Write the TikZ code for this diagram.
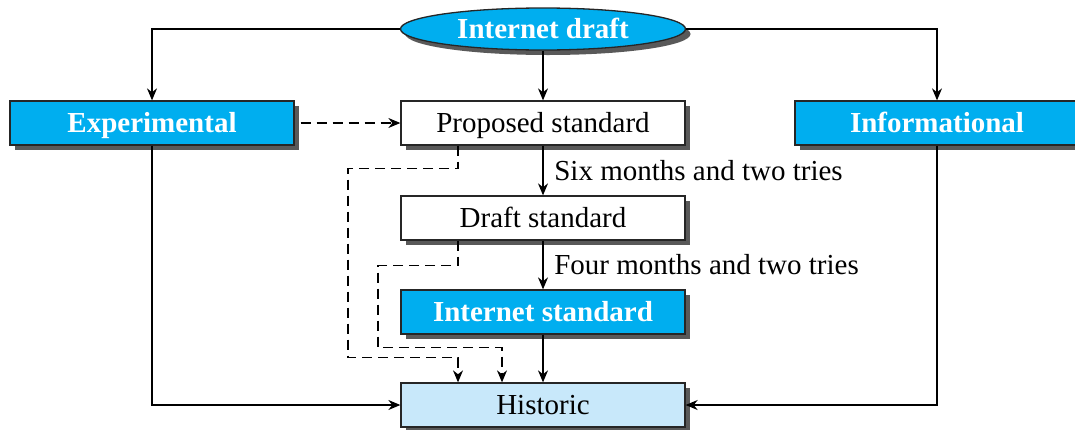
\documentclass[tikz,border=0pt]{standalone}
\usepackage{fontspec}
\setmainfont{Liberation Serif}
\usetikzlibrary{arrows.meta,shapes.geometric,shadows}
\definecolor{stdcyan}{RGB}{0,174,239}
\definecolor{histblue}{RGB}{200,232,250}

\begin{document}
\begin{tikzpicture}[x=.5pt,y=-.5pt,line width=.65pt,
 box/.style={draw=black!85,minimum width=142pt,minimum height=22pt,inner sep=0pt,
  text height=11pt,text depth=2pt,font=\fontsize{14.5}{17}\selectfont,
  drop shadow={shadow xshift=2.5pt,shadow yshift=-2.5pt,fill=black!65,opacity=1}},
 hot/.style={box,fill=stdcyan,text=white,font=\fontsize{14.5}{17}\selectfont\bfseries},
 arr/.style={-{Stealth[length=6pt,width=5pt]}},
 dashline/.style={arr,dash pattern=on 5pt off 3pt},
 lbl/.style={font=\fontsize{14.5}{17}\selectfont,right,xshift=2pt}]
\useasboundingbox (0,0) rectangle (1075,429);
% the boxes
\node[hot,ellipse,minimum width=142.5pt,minimum height=21pt,
 drop shadow={shadow xshift=1.5pt,shadow yshift=-1.5pt,fill=black!65,opacity=1}] (idraft) at (543,29) {Internet draft};
\node[hot] (exper) at (152,123) {Experimental};
\node[box,fill=white] (proposed) at (543,123) {Proposed standard};
\node[hot] (info) at (937,123) {Informational};
\node[box,fill=white] (dstd) at (543,218) {Draft standard};
\node[hot] (istd) at (543,312) {Internet standard};
\node[box,fill=histblue] (hist) at (543,405) {Historic};
% solid arrows
\draw[arr] (idraft.west) -| (exper.north);
\draw[arr] (idraft.east) -| (info.north);
\draw[arr] (idraft.south) -- (proposed.north);
\draw[arr] (proposed.south) -- node[lbl]{Six months and two tries} (dstd.north);
\draw[arr] (dstd.south) -- node[lbl]{Four months and two tries} (istd.north);
\draw[arr] (istd.south) -- (hist.north);
\draw[arr] (exper.south) |- (hist.west);
\draw[arr] (info.south) |- (hist.east);
% dashed arrows
\draw[dashline] ([xshift=3pt]exper.east) -- (proposed.west);
\draw[dashline] ([xshift=-42.5pt]proposed.south) -- ++(0,23) -| ++(-110,189) -| ([xshift=-42.5pt]hist.north);
\draw[dashline] ([xshift=-42.5pt]dstd.south) -- ++(0,25) -| ++(-80,82) -| ([xshift=-20.5pt]hist.north);
\end{tikzpicture}
\end{document}
